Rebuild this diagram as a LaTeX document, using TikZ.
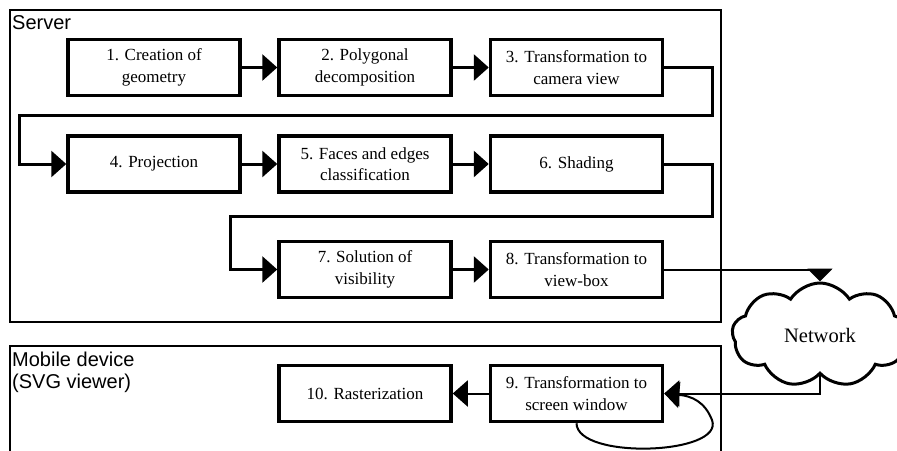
\documentclass[tikz,border=0pt]{standalone}
\usepackage{fontspec}
\setmainfont{Liberation Serif}
\newfontfamily\arialf{Liberation Sans}
\usetikzlibrary{arrows.meta,shapes.symbols}
\tikzset{
  stepbox/.style={draw, line width=3.5pt, minimum width=172pt, minimum height=56pt, align=center, inner sep=0pt, font=\fontsize{17}{21.5}\selectfont},
  conn/.style={line width=3pt, -{Triangle[length=15pt,width=26pt]}},
  thinconn/.style={line width=2pt, -{Triangle[length=15pt,width=26pt]}},
  frame/.style={draw, line width=2pt},
  grouplabel/.style={anchor=base west, inner sep=0pt, align=left, font=\arialf\fontsize{20}{21.7}\selectfont},
}
\begin{document}
\begin{tikzpicture}[x=1pt,y=-1pt]
\useasboundingbox (0,0) rectangle (897,450);
% group frames
\draw[frame] (10,10) rectangle (721,322);
\draw[frame] (10,346) rectangle (721,470);
\node[grouplabel] (lserver) at (12,29) {Server};
\node[grouplabel] (lmobile) at (12,388.5) {Mobile device\\(SVG viewer)};
% boxes
\node[stepbox] (b1) at (154,67.5) {1. Creation of\\geometry};
\node[stepbox] (b2) at (365,67.5) {2. Polygonal\\decomposition};
\node[stepbox] (b3) at (576.5,67.5) {3. Transformation to\\camera view};
\node[stepbox] (b4) at (154,164) {4. Projection};
\node[stepbox] (b5) at (365,164) {5. Faces and edges\\classification};
\node[stepbox] (b6) at (576.5,164) {6. Shading};
\node[stepbox] (b7) at (365,269.5) {7. Solution of\\visibility};
\node[stepbox] (b8) at (576.5,269.5) {8. Transformation to\\view-box};
\node[stepbox] (b10) at (365,393.5) {10. Rasterization};
\node[stepbox] (b9) at (576.5,393.5) {9. Transformation to\\screen window};
% cloud
\node[cloud, draw, line width=3pt, cloud puffs=9, cloud puff arc=115, aspect=1.7, minimum width=176pt, minimum height=104pt, inner sep=0pt, font=\fontsize{20.5}{24}\selectfont] (net) at (820,335) {Network};
% connectors
\draw[conn] (b1) -- (b2);
\draw[conn] (b2) -- (b3);
\draw[conn] (b4) -- (b5);
\draw[conn] (b5) -- (b6);
\draw[conn] (b7) -- (b8);
\draw[conn] (b3.east) -- (712,67.5) -- (712,115) -- (19,115) -- (19,164) -- (b4.west);
\draw[conn] (b6.east) -- (712,164) -- (712,216) -- (230,216) -- (230,269.5) -- (b7.west);
\draw[line width=2pt, -{Triangle[length=13pt,width=25pt]}] (b8.east) -| (net.north);
\draw[thinconn] (net.south) |- (b9.east);
\draw[thinconn] (b9) -- (b10);
\draw[thinconn] (b9.south) .. controls (577,460) and (725,455) .. (712,420) .. controls (705,402) and (692,396) .. (b9.east);
\end{tikzpicture}
\end{document}
